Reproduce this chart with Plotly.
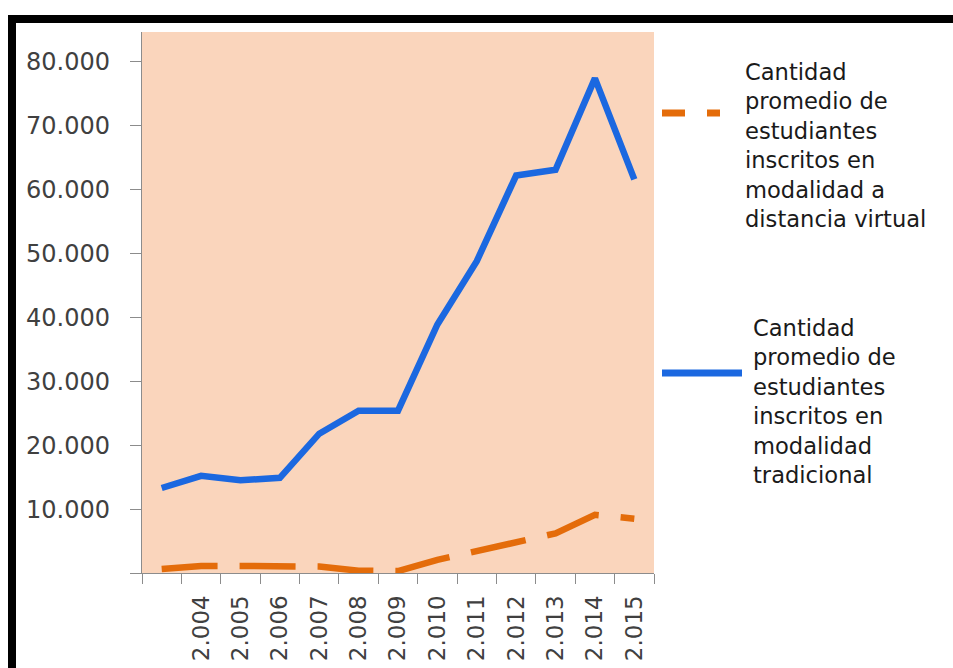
import plotly.graph_objects as go

# ---------------- data ----------------
categories = [" ", "2.004", "2.005", "2.006", "2.007", "2.008", "2.009",
              "2.010", "2.011", "2.012", "2.013", "2.014", "2.015"]
virtual = [620, 1090, 1100, 1100, 1000, 360, 300, 2050, 3500, 4750, 6200, 9100, 8500]
tradicional = [13300, 15200, 14500, 14900, 21800, 25400, 25400, 38900, 48800,
               62200, 63100, 77400, 61600]
y_tick_vals = [0, 10000, 20000, 30000, 40000, 50000, 60000, 70000, 80000]
y_tick_text = ["", "10.000", "20.000", "30.000", "40.000", "50.000",
               "60.000", "70.000", "80.000"]
label_virtual = ["Cantidad", "promedio de", "estudiantes", "inscritos en",
                 "modalidad a", "distancia virtual"]
label_trad = ["Cantidad", "promedio de", "estudiantes", "inscritos en",
              "modalidad", "tradicional"]

# ---------------- layout geometry ----------------
W, H = 953, 668
L, R, T, B = 142, 299, 32, 95
PW, PH = W - L - R, H - T - B


def px(x):
    return (x - L) / PW


def py(y):
    return (H - B - y) / PH


ORANGE = "#E46C0A"
BLUE = "#1B68E0"

fig = go.Figure()
fig.add_trace(go.Scatter(
    x=categories, y=virtual, mode="lines", name=" ".join(label_virtual),
    line=dict(color=ORANGE, width=6.5, dash="56px,22px"), showlegend=False))
fig.add_trace(go.Scatter(
    x=categories, y=tradicional, mode="lines", name=" ".join(label_trad),
    line=dict(color=BLUE, width=6.5), showlegend=False))

shapes = [
    # black frame
    dict(type="rect", xref="paper", yref="paper", x0=px(8), x1=px(965),
         y0=py(23), y1=py(15), fillcolor="black", line=dict(width=0), layer="above"),
    dict(type="rect", xref="paper", yref="paper", x0=px(8), x1=px(16),
         y0=py(690), y1=py(15), fillcolor="black", line=dict(width=0), layer="above"),
    # legend symbols
    dict(type="line", xref="paper", yref="paper", x0=px(662), x1=px(685),
         y0=py(113), y1=py(113), line=dict(color=ORANGE, width=7)),
    dict(type="line", xref="paper", yref="paper", x0=px(707), x1=px(720),
         y0=py(113), y1=py(113), line=dict(color=ORANGE, width=7)),
    dict(type="line", xref="paper", yref="paper", x0=px(662), x1=px(742),
         y0=py(373), y1=py(373), line=dict(color=BLUE, width=7)),
]

FS = 22.6
legend_font = dict(family="DejaVu Sans", size=FS, color="#1a1a1a")
annotations = [
    dict(text="<br>".join(label_virtual), xref="paper", yref="paper",
         x=px(743), y=py(145), xanchor="left", yanchor="middle", align="left",
         showarrow=False, font=legend_font),
    dict(text="<br>".join(label_trad), xref="paper", yref="paper",
         x=px(751), y=py(401.5), xanchor="left", yanchor="middle", align="left",
         showarrow=False, font=legend_font),
]

fig.update_layout(
    width=W, height=H,
    margin=dict(l=L, r=R, t=T, b=B, pad=0, autoexpand=False),
    paper_bgcolor="white",
    plot_bgcolor="#FAD5BC",
    showlegend=False,
    shapes=shapes,
    annotations=annotations,
    font=dict(family="DejaVu Sans", size=24, color="#404040"),
)
fig.update_xaxes(
    type="category", range=[-0.5, len(categories) - 0.5], automargin=False,
    tickson="boundaries", ticks="outside", ticklen=10,
    tickcolor="#8C8C8C", tickwidth=1.3, tickangle=-90,
    showline=True, linecolor="#8C8C8C", linewidth=1.3, showgrid=False,
    zeroline=False, ticklabelstandoff=12,
    tickfont=dict(family="DejaVu Sans", size=23, color="#404040"),
)
fig.update_yaxes(
    range=[0, 84660], tickmode="array", tickvals=y_tick_vals, ticktext=y_tick_text,
    automargin=False,
    ticks="outside", ticklen=11, tickcolor="#8C8C8C", tickwidth=1.3,
    showline=True, linecolor="#8C8C8C", linewidth=1.3, showgrid=False,
    zeroline=False, ticklabelstandoff=15,
    tickfont=dict(family="DejaVu Sans", size=24, color="#404040"),
)

fig.write_html("out.html")
